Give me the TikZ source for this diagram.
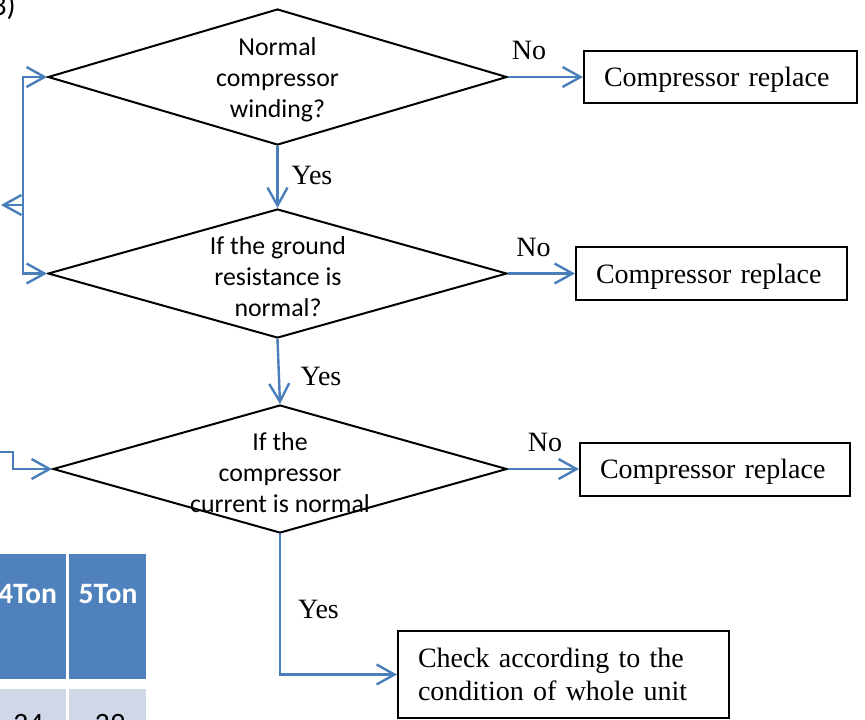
\documentclass[tikz,border=0pt]{standalone}
\usepackage{fontspec}
\setmainfont{Liberation Serif}
\newfontfamily\calibri{Carlito}
\usetikzlibrary{shapes.geometric,arrows.meta}
\definecolor{flowblue}{RGB}{74,126,187}
\definecolor{headblue}{RGB}{79,129,189}
\definecolor{cellblue}{RGB}{208,216,232}
\begin{document}
\begin{tikzpicture}[x=0.5pt, y=-0.5pt,
		decision/.style 2 args = {shape=diamond, draw, line width=1pt, inner sep=0pt, minimum width=#1, minimum height=#2},
		question/.style = {font=\calibri\fontsize{12.9}{15.5}\selectfont, align=center, inner sep=0pt},
		action/.style = {shape=rectangle, draw, line width=1pt, anchor=west, align=left, inner xsep=10pt, inner ysep=0pt, text width=#1, font=\fontsize{14}{16.5}\selectfont},
		answer/.style = {font=\fontsize{14}{16.5}\selectfont, inner sep=0pt},
		flow/.style = {draw=flowblue, line width=1.2pt, -{Straight Barb[length=9pt,width=10pt]}},
		thead/.style = {font=\calibri\bfseries\fontsize{14.8}{17}\selectfont, text=white, inner sep=0pt},
		tcell/.style = {font=\calibri\fontsize{14.8}{17}\selectfont, inner sep=0pt}]
	\useasboundingbox (0,0) rectangle (865,719);
	\clip (0,0) rectangle (865,719);

	\node[font=\calibri\fontsize{15}{17}\selectfont, anchor=base east, inner sep=0pt] (num) at (16,15) {3)};

	\node[decision={229.5pt}{68pt}] (q1) at (277.5,77) {};
	\node[question] (q1t) at (277.5,80) {Normal\\compressor\\winding?};
	\node[decision={229.5pt}{64.5pt}] (q2) at (277.5,273.5) {};
	\node[question] (q2t) at (278,277) {If the ground\\resistance is\\normal?};
	\node[decision={227pt}{64pt}] (q3) at (280,469) {};
	\node[question] (q3t) at (280,473) {If the\\compressor\\current is normal};

	\node[action=116.5pt, minimum height=26pt, text depth=0pt] (r1) at (583,77) {Compressor replace};
	\node[action=115.5pt, minimum height=26.5pt, text depth=0pt] (r2) at (575,273.5) {Compressor replace};
	\node[action=115pt, minimum height=26.5pt, text depth=0pt] (r3) at (579,469) {Compressor replace};
	\node[action=145.5pt, minimum height=43.5pt] (r4) at (397,674.5) {Check according to the\\condition of whole unit};

	\draw[flow] (q1.east) -- (r1.west);
	\draw[flow] (q2.east) -- (r2.west);
	\draw[flow] (q3.east) -- (r3.west);
	\draw[flow] (q1.south) -- (q2.north);
	\draw[flow] (q2.south) -- (q3.north);
	\draw[flow] (q3.south) |- (r4.west);

	\node[answer] (no1) at (529,50) {No};
	\node[answer] (no2) at (533.5,247) {No};
	\node[answer] (no3) at (545,442.5) {No};
	\node[answer] (yes1) at (312,175) {Yes};
	\node[answer] (yes2) at (321,376) {Yes};
	\node[answer] (yes3) at (318.5,609) {Yes};

	% return lines on the left
	\coordinate (back) at (22.7,205);
	\coordinate (out) at (1,205);
	\draw[flow] (back) |- (q1.west);
	\draw[flow] (back) |- (q2.west);
	\draw[flow] (back) -- (out);
	\coordinate (in) at (-5,452);
	\coordinate (turn) at (13,452);
	\draw[flow] (in) -- (turn) |- (q3.west);

	% table cells
	\fill[headblue] (-11,554) rectangle (66,679);
	\fill[headblue] (69,554) rectangle (146,679);
	\fill[cellblue] (-11,689) rectangle (66,740);
	\fill[cellblue] (69,689) rectangle (146,740);
	\node[thead] (t4) at (27.5,594) {4Ton};
	\node[thead] (t5) at (108,594) {5Ton};
	\node[tcell] (v4) at (28.5,724) {24};
	\node[tcell] (v5) at (110,724) {29};
\end{tikzpicture}
\end{document}
